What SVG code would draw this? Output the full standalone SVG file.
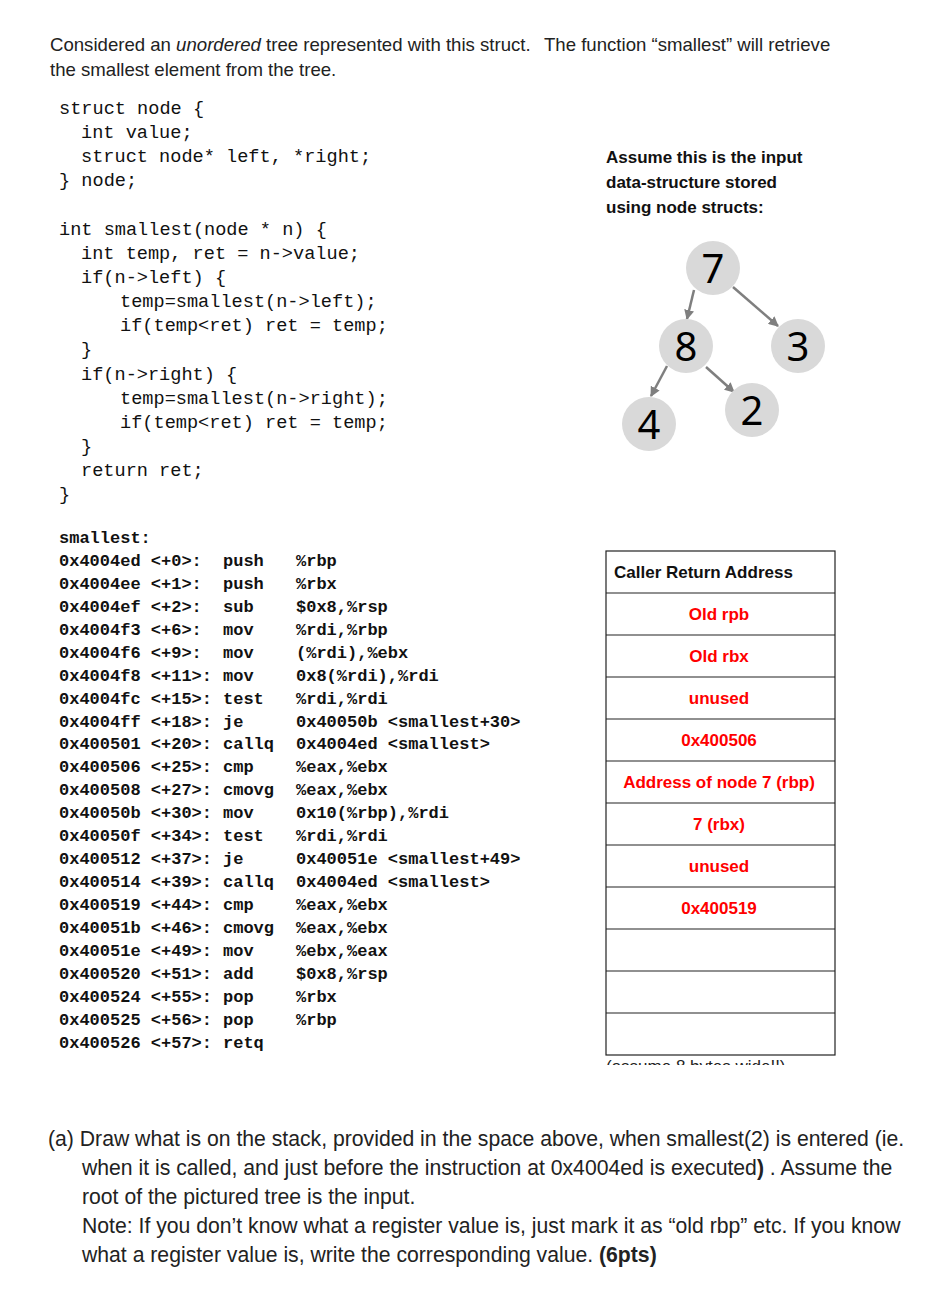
<svg xmlns="http://www.w3.org/2000/svg" width="941" height="1315" viewBox="0 0 941 1315">
<style>
.t{font-family:"Liberation Sans",Arial,sans-serif;font-size:18.6px;fill:#222}
.q{font-family:"Liberation Sans",Arial,sans-serif;font-size:21.2px;fill:#222}
.m{font-family:"Liberation Mono","DejaVu Sans Mono",monospace;font-size:17px;fill:#111}
.c{font-size:18.6px}
.b{font-family:"Liberation Sans",Arial,sans-serif;font-size:17px;font-weight:bold;fill:#111}
.r{font-family:"Liberation Sans",Arial,sans-serif;font-size:17px;font-weight:bold;fill:#f00;text-anchor:middle}
.n{fill:#d9d9d9}
.nt{font-family:"Noto Sans","DejaVu Sans",sans-serif;font-size:40px;fill:#000;text-anchor:middle}
.e{stroke:#7f7f7f;stroke-width:2.5;fill:none;marker-end:url(#a)}
.cell{fill:#fff;stroke:#222;stroke-width:1.2}
</style>
<defs><marker id="a" viewBox="0 0 10 10" refX="9" refY="5" markerWidth="4" markerHeight="4" orient="auto"><path d="M0 0L10 5L0 10z" fill="#7f7f7f"/></marker></defs>
<rect width="941" height="1315" fill="#fff"/>
<text class="t" x="50" y="51">Considered an <tspan font-style="italic">unordered</tspan> tree represented with this struct.<tspan x="544">The function “smallest” will retrieve</tspan></text>
<text class="t" x="50" y="76">the smallest element from the tree.</text>
<g class="m c">
<text x="59" y="114">struct node {</text>
<text x="81" y="138">int value;</text>
<text x="81" y="162">struct node* left, *right;</text>
<text x="59" y="186">} node;</text>
<text x="59" y="235">int smallest(node * n) {</text>
<text x="81" y="259">int temp, ret = n-&gt;value;</text>
<text x="81" y="283">if(n-&gt;left) {</text>
<text x="120" y="307">temp=smallest(n-&gt;left);</text>
<text x="120" y="331">if(temp&lt;ret) ret = temp;</text>
<text x="81" y="355">}</text>
<text x="81" y="380">if(n-&gt;right) {</text>
<text x="120" y="404">temp=smallest(n-&gt;right);</text>
<text x="120" y="428">if(temp&lt;ret) ret = temp;</text>
<text x="81" y="452">}</text>
<text x="81" y="476">return ret;</text>
<text x="59" y="500">}</text>
</g>
<g class="m" font-weight="bold">
<text x="59" y="543">smallest:</text>
<text x="59" y="566">0x4004ed &lt;+0&gt;:<tspan x="223">push</tspan><tspan x="296">%rbp</tspan></text>
<text x="59" y="589">0x4004ee &lt;+1&gt;:<tspan x="223">push</tspan><tspan x="296">%rbx</tspan></text>
<text x="59" y="612">0x4004ef &lt;+2&gt;:<tspan x="223">sub</tspan><tspan x="296">$0x8,%rsp</tspan></text>
<text x="59" y="635">0x4004f3 &lt;+6&gt;:<tspan x="223">mov</tspan><tspan x="296">%rdi,%rbp</tspan></text>
<text x="59" y="658">0x4004f6 &lt;+9&gt;:<tspan x="223">mov</tspan><tspan x="296">(%rdi),%ebx</tspan></text>
<text x="59" y="681">0x4004f8 &lt;+11&gt;:<tspan x="223">mov</tspan><tspan x="296">0x8(%rdi),%rdi</tspan></text>
<text x="59" y="704">0x4004fc &lt;+15&gt;:<tspan x="223">test</tspan><tspan x="296">%rdi,%rdi</tspan></text>
<text x="59" y="727">0x4004ff &lt;+18&gt;:<tspan x="223">je</tspan><tspan x="296">0x40050b &lt;smallest+30&gt;</tspan></text>
<text x="59" y="749">0x400501 &lt;+20&gt;:<tspan x="223">callq</tspan><tspan x="296">0x4004ed &lt;smallest&gt;</tspan></text>
<text x="59" y="772">0x400506 &lt;+25&gt;:<tspan x="223">cmp</tspan><tspan x="296">%eax,%ebx</tspan></text>
<text x="59" y="795">0x400508 &lt;+27&gt;:<tspan x="223">cmovg</tspan><tspan x="296">%eax,%ebx</tspan></text>
<text x="59" y="818">0x40050b &lt;+30&gt;:<tspan x="223">mov</tspan><tspan x="296">0x10(%rbp),%rdi</tspan></text>
<text x="59" y="841">0x40050f &lt;+34&gt;:<tspan x="223">test</tspan><tspan x="296">%rdi,%rdi</tspan></text>
<text x="59" y="864">0x400512 &lt;+37&gt;:<tspan x="223">je</tspan><tspan x="296">0x40051e &lt;smallest+49&gt;</tspan></text>
<text x="59" y="887">0x400514 &lt;+39&gt;:<tspan x="223">callq</tspan><tspan x="296">0x4004ed &lt;smallest&gt;</tspan></text>
<text x="59" y="910">0x400519 &lt;+44&gt;:<tspan x="223">cmp</tspan><tspan x="296">%eax,%ebx</tspan></text>
<text x="59" y="933">0x40051b &lt;+46&gt;:<tspan x="223">cmovg</tspan><tspan x="296">%eax,%ebx</tspan></text>
<text x="59" y="956">0x40051e &lt;+49&gt;:<tspan x="223">mov</tspan><tspan x="296">%ebx,%eax</tspan></text>
<text x="59" y="979">0x400520 &lt;+51&gt;:<tspan x="223">add</tspan><tspan x="296">$0x8,%rsp</tspan></text>
<text x="59" y="1002">0x400524 &lt;+55&gt;:<tspan x="223">pop</tspan><tspan x="296">%rbx</tspan></text>
<text x="59" y="1025">0x400525 &lt;+56&gt;:<tspan x="223">pop</tspan><tspan x="296">%rbp</tspan></text>
<text x="59" y="1048">0x400526 &lt;+57&gt;:<tspan x="223">retq</tspan></text>
</g>
<text class="b" x="606" y="163">Assume this is the input</text>
<text class="b" x="606" y="188">data-structure stored</text>
<text class="b" x="606" y="213">using node structs:</text>
<g id="edges">
<path class="e" d="M694 290L687 319"/>
<path class="e" d="M733 287L778 326"/>
<path class="e" d="M667 366L651 396"/>
<path class="e" d="M706 367L734 392"/>
</g>
<g id="n7"><circle class="n" cx="713" cy="268" r="27"/><text class="nt" x="713" y="283">7</text></g>
<g id="n8"><circle class="n" cx="686" cy="346" r="27"/><text class="nt" x="686" y="361">8</text></g>
<g id="n3"><circle class="n" cx="798" cy="346" r="27"/><text class="nt" x="798" y="361">3</text></g>
<g id="n4"><circle class="n" cx="649" cy="424" r="27"/><text class="nt" x="649" y="439">4</text></g>
<g id="n2"><circle class="n" cx="752" cy="410" r="27"/><text class="nt" x="752" y="425">2</text></g>
<g id="stack">
<rect class="cell" x="606" y="551" width="229" height="504"/>
<path d="M606 593H835M606 635H835M606 677H835M606 719H835M606 761H835M606 803H835M606 845H835M606 887H835M606 929H835M606 971H835M606 1013H835" stroke="#222" stroke-width="1.2"/>
<text class="b" x="614" y="578">Caller Return Address</text>
<text class="r" x="719" y="620">Old rpb</text>
<text class="r" x="719" y="662">Old rbx</text>
<text class="r" x="719" y="704">unused</text>
<text class="r" x="719" y="746">0x400506</text>
<text class="r" x="719" y="788">Address of node 7 (rbp)</text>
<text class="r" x="719" y="830">7 (rbx)</text>
<text class="r" x="719" y="872">unused</text>
<text class="r" x="719" y="914">0x400519</text>
</g>
<svg x="600" y="1056" width="240" height="9" overflow="hidden"><text x="6" y="16" font-family="Liberation Sans, Arial, sans-serif" font-size="17" fill="#222">(assume 8 bytes wide!!)</text></svg>
<text class="q" x="48" y="1146">(a) Draw what is on the stack, provided in the space above, when smallest(2) is entered (ie.</text>
<text class="q" x="82" y="1175">when it is called, and just before the instruction at 0x4004ed is executed<tspan font-weight="bold">)</tspan> .  Assume the</text>
<text class="q" x="82" y="1204">root of the pictured tree is the input.</text>
<text class="q" x="82" y="1233">Note: If you don’t know what a register value is, just mark it as “old rbp” etc.  If you know</text>
<text class="q" x="82" y="1262">what a register value is, write the corresponding value.  <tspan font-weight="bold">(6pts)</tspan></text>
</svg>
